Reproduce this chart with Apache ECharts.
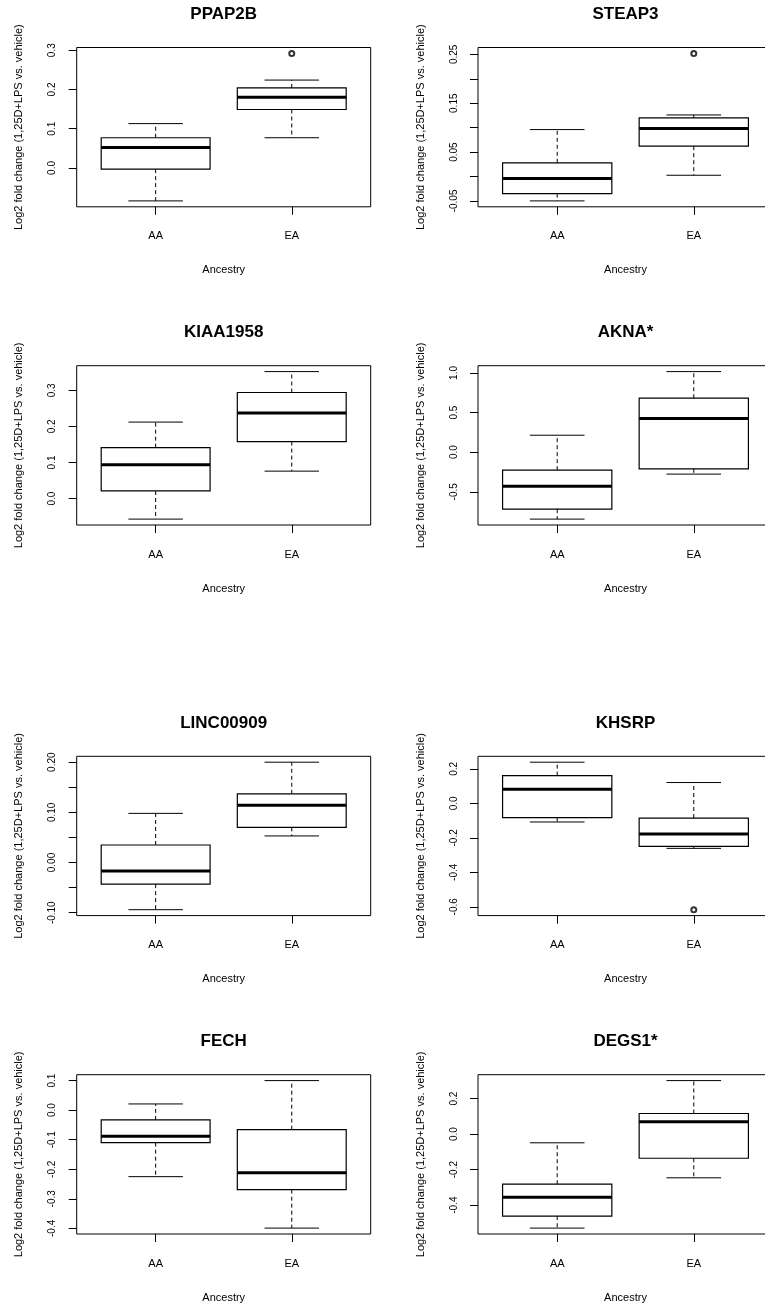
<!DOCTYPE html>
<html>
<head>
<meta charset="utf-8">
<script src="https://cdn.jsdelivr.net/npm/echarts@6/dist/echarts.min.js"></script>
<style>
html,body{margin:0;padding:0;background:#fff;overflow:hidden;width:765px;height:1305px;}
#chart{width:800px;height:1305px;}
</style>
</head>
<body>
<div id="chart"></div>
<script>
// ---- Data (box stats: [lower whisker, Q1, median, Q3, upper whisker]) ----
const categories = ['AA', 'EA'];
const genes = ['PPAP2B', 'STEAP3', 'KIAA1958', 'AKNA*', 'LINC00909', 'KHSRP', 'FECH', 'DEGS1*'];

const PPAP2B_AA = [-0.084, -0.003, 0.052, 0.077, 0.113];
const PPAP2B_EA = [0.077, 0.149, 0.180, 0.204, 0.224];
const PPAP2B_OUT = [[2, 0.292]];

const STEAP3_AA = [-0.050, -0.035, -0.004, 0.028, 0.096];
const STEAP3_EA = [0.0025, 0.062, 0.098, 0.120, 0.126];
const STEAP3_OUT = [[2, 0.252]];

const KIAA1958_AA = [-0.057, 0.021, 0.094, 0.141, 0.212];
const KIAA1958_EA = [0.076, 0.158, 0.237, 0.294, 0.352];
const KIAA1958_OUT = [];

const AKNA_AA = [-0.845, -0.718, -0.429, -0.227, 0.214];
const AKNA_EA = [-0.277, -0.210, 0.424, 0.681, 1.017];
const AKNA_OUT = [];

const LINC00909_AA = [-0.094, -0.043, -0.017, 0.035, 0.098];
const LINC00909_EA = [0.053, 0.070, 0.114, 0.137, 0.200];
const LINC00909_OUT = [];

const KHSRP_AA = [-0.108, -0.083, 0.082, 0.161, 0.239];
const KHSRP_EA = [-0.261, -0.249, -0.178, -0.085, 0.121];
const KHSRP_OUT = [[2, -0.617]];

const FECH_AA = [-0.225, -0.110, -0.088, -0.033, 0.021];
const FECH_EA = [-0.399, -0.269, -0.212, -0.066, 0.100];
const FECH_OUT = [];

const DEGS1_AA = [-0.529, -0.462, -0.355, -0.282, -0.049];
const DEGS1_EA = [-0.246, -0.136, 0.069, 0.116, 0.301];
const DEGS1_OUT = [];

// ---- Tick values and labels ----
const PPAP2B_TICKS = [0, 0.1, 0.2, 0.3];
const PPAP2B_LABELS = ['0.0', '0.1', '0.2', '0.3'];
const STEAP3_TICKS = [-0.05, 0, 0.05, 0.10, 0.15, 0.20, 0.25];
const STEAP3_LABELS = ['-0.05', '0.05', '0.15', '0.25'];
const KIAA1958_TICKS = [0, 0.1, 0.2, 0.3];
const KIAA1958_LABELS = ['0.0', '0.1', '0.2', '0.3'];
const AKNA_TICKS = [-0.5, 0, 0.5, 1.0];
const AKNA_LABELS = ['-0.5', '0.0', '0.5', '1.0'];
const LINC00909_TICKS = [-0.10, -0.05, 0, 0.05, 0.10, 0.15, 0.20];
const LINC00909_LABELS = ['-0.10', '0.00', '0.10', '0.20'];
const KHSRP_TICKS = [-0.6, -0.4, -0.2, 0, 0.2];
const KHSRP_LABELS = ['-0.6', '-0.4', '-0.2', '0.0', '0.2'];
const FECH_TICKS = [-0.4, -0.3, -0.2, -0.1, 0, 0.1];
const FECH_LABELS = ['-0.4', '-0.3', '-0.2', '-0.1', '0.0', '0.1'];
const DEGS1_TICKS = [-0.4, -0.2, 0, 0.2];
const DEGS1_LABELS = ['-0.4', '-0.2', '0.0', '0.2'];

const yLabel = 'Log2 fold change (1,25D+LPS vs. vehicle)';
const xLabel = 'Ancestry';

const panels = [
  {name: genes[0], aa: PPAP2B_AA, ea: PPAP2B_EA, out: PPAP2B_OUT, ticks: PPAP2B_TICKS, labels: PPAP2B_LABELS},
  {name: genes[1], aa: STEAP3_AA, ea: STEAP3_EA, out: STEAP3_OUT, ticks: STEAP3_TICKS, labels: STEAP3_LABELS},
  {name: genes[2], aa: KIAA1958_AA, ea: KIAA1958_EA, out: KIAA1958_OUT, ticks: KIAA1958_TICKS, labels: KIAA1958_LABELS},
  {name: genes[3], aa: AKNA_AA, ea: AKNA_EA, out: AKNA_OUT, ticks: AKNA_TICKS, labels: AKNA_LABELS},
  {name: genes[4], aa: LINC00909_AA, ea: LINC00909_EA, out: LINC00909_OUT, ticks: LINC00909_TICKS, labels: LINC00909_LABELS},
  {name: genes[5], aa: KHSRP_AA, ea: KHSRP_EA, out: KHSRP_OUT, ticks: KHSRP_TICKS, labels: KHSRP_LABELS},
  {name: genes[6], aa: FECH_AA, ea: FECH_EA, out: FECH_OUT, ticks: FECH_TICKS, labels: FECH_LABELS},
  {name: genes[7], aa: DEGS1_AA, ea: DEGS1_EA, out: DEGS1_OUT, ticks: DEGS1_TICKS, labels: DEGS1_LABELS}
];

// ---- Layout ----
const FONT = "'Liberation Sans', Arial, Helvetica, sans-serif";
const colLeft = [76.7, 478];
const colWidth = [294, 295];
const rowTop = [47.5, 365.7, 756.3, 1074.7];
const plotH = 159.3;

const chart = echarts.init(document.getElementById('chart'), null, {renderer: 'canvas'});

const grids = [], xAxes = [], yAxes = [], series = [], titles = [];

function fmtLabel(labels) {
  return function (v) {
    for (const s of labels) { if (Math.abs(parseFloat(s) - v) < 1e-9) return s; }
    return '';
  };
}

function renderBox(params, api) {
  const x = api.value(0);
  const lo = api.coord([x, api.value(1)]);
  const q1 = api.coord([x, api.value(2)]);
  const md = api.coord([x, api.value(3)]);
  const q3 = api.coord([x, api.value(4)]);
  const hi = api.coord([x, api.value(5)]);
  const halfBox = api.size([0.4, 0])[0];
  const halfCap = api.size([0.2, 0])[0];
  const cx = md[0];
  const stroke = '#000';
  return {
    type: 'group',
    children: [
      {type: 'line', shape: {x1: cx, y1: q3[1], x2: cx, y2: hi[1]}, style: {stroke, lineWidth: 1, lineDash: [4, 3]}},
      {type: 'line', shape: {x1: cx, y1: q1[1], x2: cx, y2: lo[1]}, style: {stroke, lineWidth: 1, lineDash: [4, 3]}},
      {type: 'line', shape: {x1: cx - halfCap, y1: hi[1], x2: cx + halfCap, y2: hi[1]}, style: {stroke, lineWidth: 1}},
      {type: 'line', shape: {x1: cx - halfCap, y1: lo[1], x2: cx + halfCap, y2: lo[1]}, style: {stroke, lineWidth: 1}},
      {type: 'rect', shape: {x: cx - halfBox, y: q3[1], width: 2 * halfBox, height: q1[1] - q3[1]}, style: {fill: 'none', stroke, lineWidth: 1.2}},
      {type: 'line', shape: {x1: cx - halfBox, y1: md[1], x2: cx + halfBox, y2: md[1]}, style: {stroke, lineWidth: 3}}
    ]
  };
}

panels.forEach((p, i) => {
  const col = i % 2, row = Math.floor(i / 2);
  const left = colLeft[col], top = rowTop[row], width = colWidth[col];
  grids.push({left, top, width, height: plotH, show: true, borderColor: '#000', borderWidth: 1, backgroundColor: 'transparent', containLabel: false});

  let vals = p.aa.concat(p.ea, p.out.map(o => o[1]));
  const dmin = Math.min(...vals), dmax = Math.max(...vals);
  const span = dmax - dmin;

  xAxes.push({
    type: 'value', gridIndex: i, min: 0.42, max: 2.58, position: 'bottom',
    splitLine: {show: false}, axisLine: {show: false, onZero: false},
    axisTick: {show: true, customValues: [1, 2], length: 8, lineStyle: {color: '#000', width: 1}},
    axisLabel: {show: true, customValues: [1, 2], margin: 24, fontSize: 11, fontFamily: FONT, color: '#000',
      formatter: v => categories[Math.round(v) - 1]},
    name: xLabel, nameLocation: 'middle', nameGap: 58,
    nameTextStyle: {fontSize: 11, fontFamily: FONT, color: '#000'}
  });
  yAxes.push({
    type: 'value', gridIndex: i, min: dmin - 0.04 * span, max: dmax + 0.04 * span, position: 'left',
    splitLine: {show: false}, axisLine: {show: false, onZero: false},
    axisTick: {show: true, customValues: p.ticks, length: 8, lineStyle: {color: '#000', width: 1}},
    axisLabel: {show: true, customValues: p.ticks, rotate: 90, margin: 19, fontSize: 10, fontFamily: FONT, color: '#000',
      formatter: fmtLabel(p.labels)},
    name: yLabel, nameLocation: 'middle', nameGap: 52,
    nameTextStyle: {fontSize: 11, fontFamily: FONT, color: '#000'}
  });
  series.push({
    type: 'custom', xAxisIndex: i, yAxisIndex: i, renderItem: renderBox, clip: false,
    encode: {x: 0, y: [1, 2, 3, 4, 5]},
    data: [[1].concat(p.aa), [2].concat(p.ea)],
    silent: true
  });
  if (p.out.length) {
    series.push({
      type: 'scatter', xAxisIndex: i, yAxisIndex: i, data: p.out,
      symbol: 'emptyCircle', symbolSize: 5,
      itemStyle: {color: '#000', borderColor: '#000', borderWidth: 1},
      silent: true
    });
  }
  titles.push({
    text: p.name, left: left + width / 2, top: top - 33.8 - 8, textAlign: 'center', padding: 0,
    textStyle: {fontSize: 17, fontWeight: 'bold', fontFamily: FONT, color: '#000'}
  });
});

chart.setOption({
  backgroundColor: '#fff',
  animation: false,
  title: titles,
  grid: grids,
  xAxis: xAxes,
  yAxis: yAxes,
  series: series
});
</script>
</body>
</html>
